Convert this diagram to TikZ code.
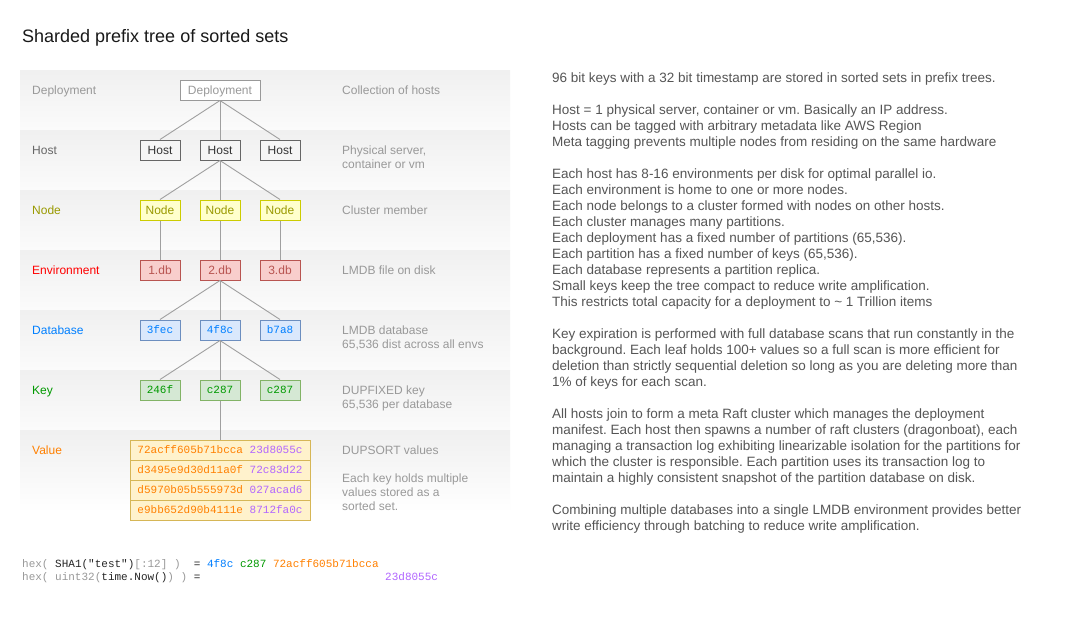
\documentclass[tikz,border=0pt]{standalone}
\usepackage{fontspec}
\setmainfont{Liberation Sans}
\setmonofont{Liberation Mono}
\usetikzlibrary{positioning}
\frenchspacing

\definecolor{descgray}{HTML}{999999}
\definecolor{bodygray}{HTML}{555555}
\definecolor{linkgray}{HTML}{A0A0A0}
\definecolor{hostline}{HTML}{666666}
\definecolor{hostfill}{HTML}{F5F5F5}
\definecolor{hosttext}{HTML}{333333}
\definecolor{nodeline}{HTML}{CCCC00}
\definecolor{nodefill}{HTML}{FFFFCC}
\definecolor{nodetext}{HTML}{999900}
\definecolor{envline}{HTML}{B85450}
\definecolor{envfill}{HTML}{F8CECC}
\definecolor{envtext}{HTML}{FF0000}
\definecolor{dbline}{HTML}{6C8EBF}
\definecolor{dbfill}{HTML}{DAE8FC}
\definecolor{dbtext}{HTML}{007FFF}
\definecolor{keyline}{HTML}{82B366}
\definecolor{keyfill}{HTML}{D5E8D4}
\definecolor{keytext}{HTML}{009900}
\definecolor{valline}{HTML}{D6B656}
\definecolor{valfill}{HTML}{FFF2CC}
\definecolor{valorange}{HTML}{FF8000}
\definecolor{valpurple}{HTML}{B266FF}

\newcommand{\labfont}{\fontsize{12}{14}\selectfont}
\newcommand{\bodyfont}{\fontsize{13.5}{16}\selectfont}
\newcommand{\hexfont}{\ttfamily\fontsize{11}{13}\selectfont}

\begin{document}
\begin{tikzpicture}[x=1pt,y=-1pt,
    band/.style={top color=black!6, bottom color=black!1.5, draw=none},
    rowlabel/.style={anchor=base west, inner sep=0, font=\labfont},
    desc/.style={anchor=north west, align=left, inner sep=0, font=\labfont, text=descgray},
    para/.style={anchor=north west, align=left, inner sep=0, font=\bodyfont, text=bodygray},
    box/.style={draw, line width=1pt, minimum width=40, minimum height=20, inner sep=0,
      text height=8.6, text depth=0, font=\labfont},
    hexbox/.style={box, text height=7.6, font=\hexfont},
    link/.style={draw=linkgray, line width=0.9pt},
    code/.style={anchor=base west, inner sep=0, font=\hexfont}]
  \useasboundingbox (0,0) rectangle (1071,641);
  \fill[white] (0,0) rectangle (1071,641);

  \node[anchor=base west, inner sep=0, font=\fontsize{18}{20}\selectfont, text=black!90] (title)
    at (22,42) {Sharded prefix tree of sorted sets};

  % layer bands
  \foreach \y in {70,130,190,250,310,370}
    \shade[band] (20,\y) rectangle (510,\y+60);
  \shade[top color=black!6, bottom color=white] (20,430) rectangle (510,512);

  % row labels
  \node[rowlabel, text=descgray] (l1) at (32,94.3) {Deployment};
  \node[rowlabel, text=hostline] (l2) at (32,154.3) {Host};
  \node[rowlabel, text=nodetext] (l3) at (32,214.3) {Node};
  \node[rowlabel, text=envtext] (l4) at (32,274.3) {Environment};
  \node[rowlabel, text=dbtext] (l5) at (32,334.3) {Database};
  \node[rowlabel, text=keytext] (l6) at (32,394.3) {Key};
  \node[rowlabel, text=valorange] (l7) at (32,454.3) {Value};

  % the tree
  \node[box, minimum width=80, draw=descgray, fill=white, text=descgray] (dep) at (220,90) {Deployment};
  \foreach \i/\x/\e/\d/\k in {1/160/1.db/3fec/246f, 2/220/2.db/4f8c/c287, 3/280/3.db/b7a8/c287} {
    \node[box, draw=hostline, fill=hostfill, text=hosttext] (h\i) at (\x,150) {Host};
    \node[box, draw=nodeline, fill=nodefill, text=nodetext] (n\i) at (\x,210) {Node};
    \node[box, draw=envline, fill=envfill, text=envline] (e\i) at (\x,270) {\e};
    \node[hexbox, draw=dbline, fill=dbfill, text=dbtext] (d\i) at (\x,330) {\d};
    \node[hexbox, draw=keyline, fill=keyfill, text=keytext] (k\i) at (\x,390) {\k};
  }
  \foreach \i/\a/\b in {1/72acff605b71bcca/23d8055c, 2/d3495e9d30d11a0f/72c83d22,
      3/d5970b05b555973d/027acad6, 4/e9bb652d90b4111e/8712fa0c}
    \node[hexbox, minimum width=180, draw=valline, fill=valfill] (v\i) at (220,430+20*\i)
      {\textcolor{valorange}{\a}\ \textcolor{valpurple}{\b}};

  \foreach \i in {1,2,3} {
    \draw[link] (dep.south) -- (h\i.north);
    \draw[link] (h2.south) -- (n\i.north);
    \draw[link] (n\i.south) -- (e\i.north);
    \draw[link] (e2.south) -- (d\i.north);
    \draw[link] (d2.south) -- (k\i.north);
  }
  \draw[link] (k2.south) -- (v1.north);

  % descriptions
  \node[desc] (c1) at (342,84.5) {\strut Collection of hosts};
  \node[desc] (c2) at (342,144.5) {\strut Physical server,\\container or vm};
  \node[desc] (c3) at (342,204.5) {\strut Cluster member};
  \node[desc] (c4) at (342,264.5) {\strut LMDB file on disk};
  \node[desc] (c5) at (342,324.5) {\strut LMDB database\\65,536 dist across all envs};
  \node[desc] (c6) at (342,384.5) {\strut DUPFIXED key\\65,536 per database};
  \node[desc] (c7) at (342,444.5) {\strut DUPSORT values};
  \node[desc] (c8) at (342,472.5) {\strut Each key holds multiple\\values stored as a\\sorted set.};

  % hash layout
  \node[code] (hash) at (22,567) {\textcolor{descgray}{hex(}\ \textcolor{black!85}{SHA1("test")}\textcolor{descgray}{[:12]\ )}\ \ \textcolor{black!85}{=}\ \textcolor{dbtext}{4f8c}\ \textcolor{keytext}{c287}\ \textcolor{valorange}{72acff605b71bcca}};
  \node[code] (stamp) at (22,580) {\textcolor{descgray}{hex(\ uint32(}\textcolor{black!85}{time.Now()}\textcolor{descgray}{)\ )}\ \textcolor{black!85}{=}};
  \node[code, text=valpurple] (stampval) at (385,580) {23d8055c};

  % notes
  \node[para] (p1) at (552,70.6) {\strut 96 bit keys with a 32 bit timestamp are stored in sorted sets in prefix trees.};
  \node[para] (p2) at (552,102.6) {\strut Host = 1 physical server, container or vm. Basically an IP address.\\
    Hosts can be tagged with arbitrary metadata like AWS Region\\
    Meta tagging prevents multiple nodes from residing on the same hardware};
  \node[para] (p3) at (552,166.6) {\strut Each host has 8-16 environments per disk for optimal parallel io.\\
    Each environment is home to one or more nodes.\\
    Each node belongs to a cluster formed with nodes on other hosts.\\
    Each cluster manages many partitions.\\
    Each deployment has a fixed number of partitions (65,536).\\
    Each partition has a fixed number of keys (65,536).\\
    Each database represents a partition replica.\\
    Small keys keep the tree compact to reduce write amplification.\\
    This restricts total capacity for a deployment to \textasciitilde{} 1 Trillion items};
  \node[para] (p4) at (552,326.6) {\strut Key expiration is performed with full database scans that run constantly in the\\
    background. Each leaf holds 100+ values so a full scan is more efficient for\\
    deletion than strictly sequential deletion so long as you are deleting more than\\
    1\% of keys for each scan.};
  \node[para] (p5) at (552,406.6) {\strut All hosts join to form a meta Raft cluster which manages the deployment\\
    manifest. Each host then spawns a number of raft clusters (dragonboat), each\\
    managing a transaction log exhibiting linearizable isolation for the partitions for\\
    which the cluster is responsible. Each partition uses its transaction log to\\
    maintain a highly consistent snapshot of the partition database on disk.};
  \node[para] (p6) at (552,502.6) {\strut Combining multiple databases into a single LMDB environment provides better\\
    write efficiency through batching to reduce write amplification.};
\end{tikzpicture}
\end{document}
